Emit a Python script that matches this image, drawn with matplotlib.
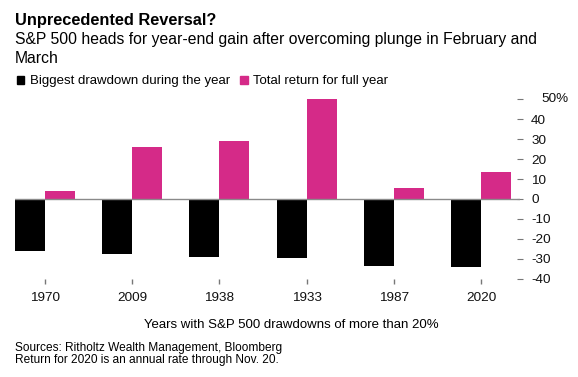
import matplotlib
matplotlib.use("Agg")
import matplotlib.pyplot as plt
import matplotlib.transforms as mtransforms
import numpy as np

plt.rcParams['font.family'] = ['Liberation Sans', 'DejaVu Sans']

years = ['1970', '2009', '1938', '1933', '1987', '2020']
drawdown = [-25.9, -27.6, -29.2, -29.7, -33.5, -33.9]
total_return = [3.9, 26.0, 29.3, 50.0, 5.7, 13.4]
yticks = [-40, -30, -20, -10, 0, 10, 20, 30, 40, 50]
ytick_labels = ['-40', '-30', '-20', '-10', '0', '10', '20', '30', '40', '']

W, H = 578, 377
fig = plt.figure(figsize=(W / 100, H / 100), dpi=100)

def fx(px):
    return px / W

def fy(py):
    return 1 - py / H

left, right, top, bottom = 15, 520, 99.3, 278.7
ax = fig.add_axes([fx(left), fy(bottom), fx(right - left), (bottom - top) / H])

x = np.arange(len(years))
bw = 0.344
pink = '#d52a88'
ax.bar(x - bw / 2, drawdown, width=bw, color='black', zorder=2)
ax.bar(x + bw / 2, total_return, width=bw, color=pink, zorder=2)
ax.axhline(0, color='#8a8a8a', lw=1.0, zorder=3)

ax.set_xlim(-0.34, len(years) - 1 + 0.443)
ax.set_ylim(-40, 50)

for s in ax.spines.values():
    s.set_visible(False)

ax.set_xticks(x)
ax.set_xticklabels(years, fontsize=9.7, color='#111111')
ax.tick_params(axis='x', direction='out', length=3.5, width=1, color='#777777', pad=6)

ax.yaxis.tick_right()
ax.set_yticks(yticks)
ax.set_yticklabels(ytick_labels, fontsize=9.7, color='#111111')
ax.tick_params(axis='y', direction='inout', length=4, width=0.8, color='#777777', pad=6)
for lab in ax.get_yticklabels():
    lab.set_horizontalalignment('left')

tr = mtransforms.blended_transform_factory(ax.transAxes, ax.transData)
off = mtransforms.ScaledTranslation(21.5 / 100, 0, fig.dpi_scale_trans)
ax.text(1, 50, '50%', transform=tr + off, fontsize=9.7, color='#111111',
        ha='left', va='center')

# titles
fig.text(fx(15), fy(25), 'Unprecedented Reversal?', fontsize=11.8, fontweight='bold',
         ha='left', va='baseline', color='black')
fig.text(fx(15), fy(44.3), 'S&P 500 heads for year-end gain after overcoming plunge in February and',
         fontsize=11.3, ha='left', va='baseline', color='black')
fig.text(fx(15), fy(63.3), 'March', fontsize=11.3, ha='left', va='baseline', color='black')

# legend
fig.patches.append(plt.Rectangle((fx(16.5), fy(84)), fx(7.8), 7.8 / H, color='black',
                                 transform=fig.transFigure, figure=fig))
fig.text(fx(30), fy(84), 'Biggest drawdown during the year', fontsize=9.5,
         ha='left', va='baseline', color='black')
fig.patches.append(plt.Rectangle((fx(240), fy(84)), fx(7.8), 7.8 / H, color=pink,
                                 transform=fig.transFigure, figure=fig))
fig.text(fx(253.3), fy(84), 'Total return for full year', fontsize=9.5,
         ha='left', va='baseline', color='black')

fig.text(fx(291.7), fy(328.3), 'Years with S&P 500 drawdowns of more than 20%', fontsize=9.5,
         ha='center', va='baseline', color='black')
fig.text(fx(15), fy(350.7), 'Sources: Ritholtz Wealth Management, Bloomberg', fontsize=8.6,
         ha='left', va='baseline', color='black')
fig.text(fx(15), fy(362.7), 'Return for 2020 is an annual rate through Nov. 20.', fontsize=8.6,
         ha='left', va='baseline', color='black')

fig.savefig('out.png', dpi=100)
